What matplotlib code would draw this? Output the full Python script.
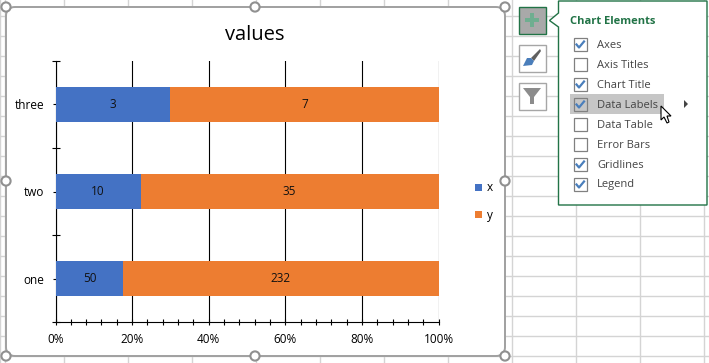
# -*- coding: utf-8 -*-
import matplotlib
matplotlib.use('Agg')
import matplotlib.pyplot as plt
import matplotlib.patches as mpatches
from matplotlib.ticker import MultipleLocator, FuncFormatter, FixedLocator, NullFormatter

plt.rcParams['font.family'] = ['Open Sans', 'DejaVu Sans']

categories = ['one', 'two', 'three']
x_values = [50, 10, 3]
y_values = [232, 35, 7]
menu_items = ['Axes', 'Axis Titles', 'Chart Title', 'Data Labels',
              'Data Table', 'Error Bars', 'Gridlines', 'Legend']
menu_checked = [True, False, True, True, False, False, True, True]

W, H = 709, 363
fig = plt.figure(figsize=(W / 100, H / 100), dpi=100)
fig.patch.set_facecolor('white')

# background layer in screen pixels: sheet, chart frame, popup
bg = fig.add_axes([0, 0, 1, 1], zorder=1)
bg.set_xlim(0, W)
bg.set_ylim(H, 0)
bg.axis('off')

for gx in range(0, W, 64):
    bg.plot([gx, gx], [0, H], color='#d4d4d4', lw=1, zorder=1)
bg.plot([5, 5], [0, H], color='#d4d4d4', lw=1, zorder=1)
for gy in range(16, H, 20):
    bg.plot([0, W], [gy, gy], color='#d4d4d4', lw=1, zorder=1)

bg.add_patch(mpatches.FancyBboxPatch((6, 7), 499, 349, boxstyle="round,pad=0,rounding_size=9",
                                     facecolor='white', edgecolor='#a0a0a0', lw=1.4, zorder=2))
for hx, hy in [(6, 7), (255, 7), (505, 7), (6, 181), (505, 181), (6, 356), (255, 356), (505, 356)]:
    bg.add_patch(mpatches.Circle((hx, hy), 4.6, facecolor='white', edgecolor='#909090', lw=1.5, zorder=3))

# side buttons
bg.add_patch(mpatches.Rectangle((518.5, 6.5), 27, 27, facecolor='#a9a9a9', edgecolor='#217346', lw=1, zorder=3))
bg.add_patch(mpatches.Rectangle((525, 18), 14, 4, facecolor='#6fae90', zorder=4))
bg.add_patch(mpatches.Rectangle((530, 13), 4, 14, facecolor='#6fae90', zorder=4))
bg.add_patch(mpatches.Rectangle((518.5, 44.5), 27, 27, facecolor='white', edgecolor='#a6a6a6', lw=1, zorder=3))
bg.add_patch(mpatches.Polygon([(531, 58), (540, 49), (541, 51), (534, 61)], facecolor='#606060', zorder=4))
bg.add_patch(mpatches.Polygon([(523, 66), (527, 58), (531, 58), (534, 61), (532, 65)], facecolor='#4a7ebb', zorder=4))
bg.add_patch(mpatches.Rectangle((518.5, 82.5), 27, 27, facecolor='white', edgecolor='#a6a6a6', lw=1, zorder=3))
bg.add_patch(mpatches.Polygon([(523, 88), (541, 88), (534, 97), (534, 104), (530, 104), (530, 97)],
                              facecolor='#8c8c8c', zorder=4))

# popup
bg.add_patch(mpatches.Polygon([(558.5, 1), (707, 1), (707, 205), (558.5, 205), (558.5, 27), (549.5, 20.5), (558.5, 13)],
                              facecolor='white', edgecolor='#217346', lw=1, zorder=3))
bg.text(570, 21.5, 'Chart Elements', color='#217346', fontsize=8, fontweight='bold', va='center', zorder=5)
bg.add_patch(mpatches.Rectangle((570, 94), 94, 20, facecolor='#c6c6c6', zorder=4))
for i, (item, on) in enumerate(zip(menu_items, menu_checked)):
    cy = 44.5 + i * 20
    bg.add_patch(mpatches.Rectangle((573.5, cy - 6.5), 13, 13, facecolor='none', edgecolor='#808080', lw=0.9, zorder=5))
    if on:
        bg.plot([576.5, 579, 584], [cy, cy + 3, cy - 3], color='#4a7ebb', lw=1.6, zorder=6)
    bg.text(597, cy + 0.5, item, color='#444444', fontsize=8, va='center', zorder=6)
bg.add_patch(mpatches.Polygon([(684, 100), (688, 104), (684, 108)], facecolor='#444444', zorder=5))
bg.add_patch(mpatches.Polygon([(661, 106), (661, 120), (664, 117), (667, 123), (669, 122), (667, 116), (671, 116)],
                              facecolor='white', edgecolor='black', lw=0.8, zorder=7))

# the chart itself
ax = fig.add_axes([55.5 / W, 1 - 322 / H, 383 / W, 261 / H], zorder=2)
ax.patch.set_alpha(0)

totals = [a + b for a, b in zip(x_values, y_values)]
x_share = [a / t * 100 for a, t in zip(x_values, totals)]
y_share = [b / t * 100 for b, t in zip(y_values, totals)]
pos = list(range(len(categories)))

bars_x = ax.barh(pos, x_share, height=0.4, color='#4472c4', label='x', zorder=3)
bars_y = ax.barh(pos, y_share, left=x_share, height=0.4, color='#ed7d31', label='y', zorder=3)
for bars, vals in [(bars_x, x_values), (bars_y, y_values)]:
    ax.bar_label(bars, labels=[str(v) for v in vals], label_type='center', fontsize=8.5, color='#111111')

ax.set_xlim(0, 100)
ax.set_ylim(-0.5, 2.5)
ax.xaxis.set_major_locator(MultipleLocator(20))
ax.xaxis.set_minor_locator(MultipleLocator(4))
ax.xaxis.set_major_formatter(FuncFormatter(lambda v, p: '%d%%' % v))
ax.grid(axis='x', which='major', color='black', lw=0.8, zorder=1)
ax.set_axisbelow(True)

ax.yaxis.set_major_locator(FixedLocator(pos))
ax.yaxis.set_major_formatter(FuncFormatter(lambda v, p: categories[int(v)]))
ax.yaxis.set_minor_locator(FixedLocator([-0.5, 0.5, 1.5, 2.5]))
ax.yaxis.set_minor_formatter(NullFormatter())

ax.tick_params(axis='x', which='major', direction='inout', length=4, width=0.8, labelsize=8.5, pad=6, colors='black')
ax.tick_params(axis='x', which='minor', direction='inout', length=4, width=0.8, colors='black')
ax.tick_params(axis='y', which='major', direction='inout', length=4.3, width=0.8, labelsize=8.5, pad=6, colors='black')
ax.tick_params(axis='y', which='minor', direction='inout', length=5.5, width=0.8, colors='black')
for s in ['top', 'right']:
    ax.spines[s].set_visible(False)
for s in ['left', 'bottom']:
    ax.spines[s].set_linewidth(0.8)
    ax.spines[s].set_color('black')

ax.set_title('values', fontsize=14.5, color='black', pad=15, x=(255 - 55.5) / 383)

ax.legend(handles=[bars_x, bars_y], loc='center left', bbox_to_anchor=(475 / W, 1 - 201.5 / H),
          bbox_transform=fig.transFigure, frameon=False, fontsize=8.5, handlelength=0.6, handleheight=0.6,
          handletextpad=0.4, labelspacing=1.2, borderpad=0, borderaxespad=0)

fig.savefig('out.png', dpi=100)
